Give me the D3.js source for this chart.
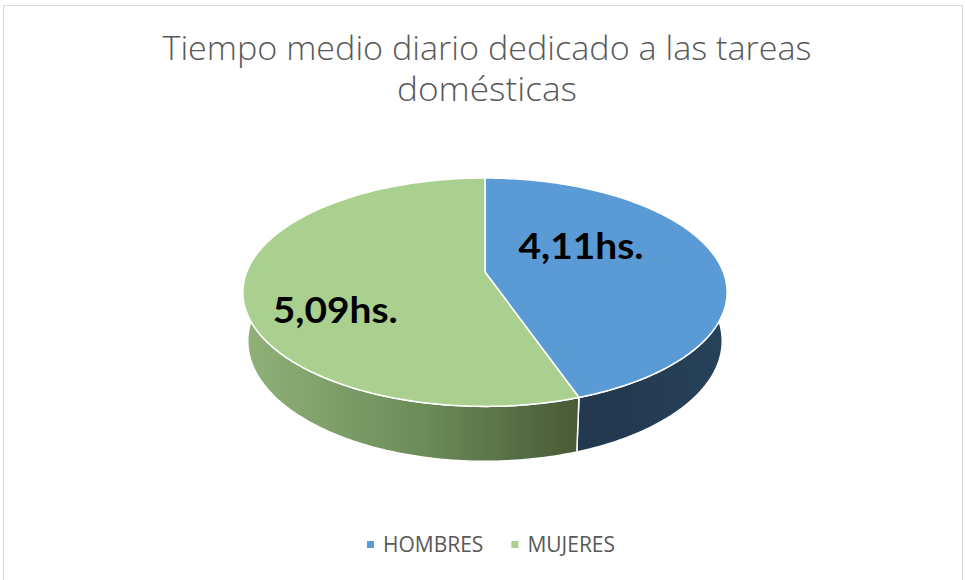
<!DOCTYPE html>
<html lang="es">
<head>
	<meta charset="UTF-8">
	<title>Tiempo medio diario</title>
	<script src="https://cdn.jsdelivr.net/npm/d3@7"></script>
	<style>
		body{
			margin: 0px;
			background: #fff;
		}
	</style>
</head>
<body>
	<svg></svg>
	<script>
		// datos
		var categorias = ["HOMBRES", "MUJERES"];
		var horas = [4.11, 5.09];
		var etiquetas = ["4,11hs.", "5,09hs."];
		var titulo = ["Tiempo medio diario dedicado a las tareas", "domésticas"];

		var w = 965,
			h = 580,
			svg = d3.select("svg").attr("width", w).attr("height", h);

		var colorTop = d3.scaleOrdinal().domain(categorias).range(["#5b9bd5", "#a9d08e"]);
		var colorSide = d3.scaleOrdinal().domain(categorias).range(["url(#sideH)", "url(#sideM)"]);

		// borde del grafico
		svg.append("rect")
			.attr("x", 3.5).attr("y", 5.5)
			.attr("width", 959).attr("height", 600)
			.attr("fill", "#fff").attr("stroke", "#d9d9d9");

		var defs = svg.append("defs");
		var gM = defs.append("linearGradient").attr("id", "sideM")
			.attr("gradientUnits", "userSpaceOnUse")
			.attr("x1", 243).attr("x2", 611).attr("y1", 0).attr("y2", 0);
		gM.append("stop").attr("offset", 0).attr("stop-color", "#90b279");
		gM.append("stop").attr("offset", 0.5).attr("stop-color", "#6b8b58");
		gM.append("stop").attr("offset", 1).attr("stop-color", "#414f2f");
		var gH = defs.append("linearGradient").attr("id", "sideH")
			.attr("gradientUnits", "userSpaceOnUse")
			.attr("x1", 611).attr("x2", 728).attr("y1", 0).attr("y2", 0);
		gH.append("stop").attr("offset", 0).attr("stop-color", "#22394f");
		gH.append("stop").attr("offset", 1).attr("stop-color", "#264259");

		// proyeccion en perspectiva del disco
		var cx = 485, cy = 272, K = 238.3, L = 110.6, p = 0.177, dep = 49, q = 0.02;
		function proj(a, f, hh) {
			var X = f * Math.sin(a), Z = f * Math.cos(a);
			var d = 1 + p * Z + q * hh;
			return [cx + K * X / d, cy - (L * Z - dep * hh) / d];
		}
		function arcPts(a0, a1, f, hh) {
			var n = Math.max(2, Math.ceil(Math.abs(a1 - a0) / (Math.PI / 180))), pts = [];
			for (var i = 0; i <= n; i++) pts.push(proj(a0 + (a1 - a0) * i / n, f, hh));
			return pts;
		}

		var pie = d3.pie().sort(null).value(function(d){ return d; });
		var arcs = pie(horas);
		var line = d3.line();

		// paredes laterales (parte frontal)
		svg.append("g").selectAll("path")
			.data(arcs).enter().append("path")
			.attr("d", function(d) {
				var a0 = Math.max(d.startAngle, Math.PI / 2), a1 = Math.min(d.endAngle, Math.PI * 1.5);
				if (a1 <= a0) return null;
				var pts = arcPts(a0, a1, 1, 0).concat(arcPts(a1, a0, 1, 1));
				return line(pts) + "Z";
			})
			.attr("fill", function(d, i){ return colorSide(categorias[i]); })
			.attr("stroke", "#fff").attr("stroke-width", 1.5).attr("stroke-linejoin", "round");

		// caras superiores
		svg.append("g").selectAll("path")
			.data(arcs).enter().append("path")
			.attr("d", function(d) {
				return line([[cx, cy]].concat(arcPts(d.startAngle, d.endAngle, 1, 0))) + "Z";
			})
			.attr("fill", function(d, i){ return colorTop(categorias[i]); })
			.attr("stroke", "#fff").attr("stroke-width", 1.5).attr("stroke-linejoin", "round");

		// etiquetas de datos
		var labOff = [[-0.34, 0.48], [-0.35, 0.68]];
		svg.append("g").selectAll("text")
			.data(arcs).enter().append("text")
			.attr("transform", function(d, i) {
				var m = (d.startAngle + d.endAngle) / 2 + labOff[i][0];
				return "translate(" + proj(m, labOff[i][1], 0) + ")";
			})
			.attr("text-anchor", "middle").attr("dy", "0.32em")
			.attr("font-family", "Lato, 'Open Sans', sans-serif")
			.attr("font-weight", "bold").attr("font-size", 37)
			.attr("fill", "#000")
			.attr("textLength", 125).attr("lengthAdjust", "spacingAndGlyphs")
			.text(function(d, i){ return etiquetas[i]; });

		// titulo
		svg.append("g").selectAll("text")
			.data(titulo).enter().append("text")
			.attr("x", 487).attr("y", function(d, i){ return 60 + i * 41; })
			.attr("text-anchor", "middle")
			.attr("font-family", "'Open Sans', sans-serif")
			.attr("font-weight", 300).attr("font-size", 33)
			.attr("fill", "#595959")
			.attr("textLength", function(d, i){ return i ? 180 : 649; })
			.attr("lengthAdjust", "spacingAndGlyphs")
			.text(function(d){ return d; });

		// leyenda
		var legend = svg.append("g");
		var items = legend.selectAll("g").data(categorias).enter().append("g");
		items.append("rect").attr("width", 7).attr("height", 7).attr("y", -11)
			.attr("fill", function(d){ return colorTop(d); });
		items.append("text").attr("x", 16)
			.attr("font-family", "'Open Sans', sans-serif")
			.attr("font-size", 21).attr("fill", "#595959")
			.text(function(d){ return d; });
		var xs = 0, offs = [];
		items.each(function() {
			var tw = d3.select(this).select("text").node().getComputedTextLength();
			offs.push(xs);
			xs += 16 + tw + 28;
		});
		xs -= 28;
		var lx = 491 - xs / 2;
		items.attr("transform", function(d, i){ return "translate(" + (lx + offs[i]) + ",552)"; });
	</script>
</body>
</html>
